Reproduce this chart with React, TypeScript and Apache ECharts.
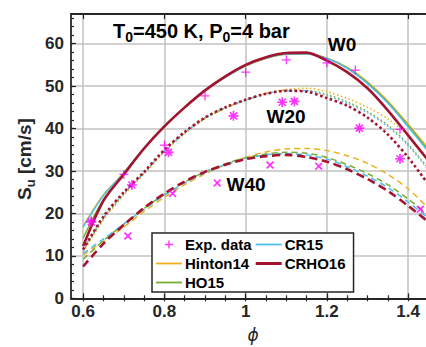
import React, { useEffect, useRef } from "react";
import * as echarts from "echarts";

const FONT = "'Liberation Sans', Arial, Helvetica, sans-serif";

// equivalence ratio grid for model curves
const phi = [0.6, 0.65, 0.7, 0.75, 0.8, 0.85, 0.9, 0.95, 1.0, 1.05, 1.1, 1.15, 1.2, 1.25, 1.3, 1.35, 1.4, 1.45];

// W0 (solid)
const hintonW0 = [17.0, 24.4, 29.6, 35.5, 40.6, 45.0, 48.9, 52.1, 54.7, 56.5, 57.5, 57.6, 56.6, 54.4, 51.0, 46.5, 41.0, 35.3];
const ho15W0 = [14.2, 23.3, 29.4, 35.4, 40.6, 45.0, 48.9, 52.1, 54.8, 56.6, 57.6, 57.7, 56.6, 54.3, 50.8, 46.2, 40.7, 34.8];
const cr15W0 = [16.8, 24.2, 29.5, 35.5, 40.6, 45.0, 48.9, 52.1, 54.8, 56.6, 57.6, 57.6, 56.5, 54.2, 50.6, 46.0, 40.4, 34.5];
const crho16W0 = [12.3, 23.0, 29.2, 35.3, 40.5, 45.0, 49.0, 52.3, 55.0, 56.8, 57.8, 57.9, 56.0, 53.3, 49.5, 44.3, 38.4, 32.4];

// W20 (dotted)
const hintonW20 = [11.0, 18.5, 24.3, 29.3, 34.5, 38.8, 42.3, 44.8, 46.7, 48.3, 49.2, 49.5, 48.7, 47.1, 45.0, 42.3, 38.3, 32.8];
const ho15W20 = [11.3, 18.8, 24.6, 29.5, 34.7, 39.0, 42.5, 44.9, 46.7, 48.2, 49.0, 49.0, 48.0, 46.3, 44.0, 40.8, 36.3, 30.6];
const cr15W20 = [11.5, 19.0, 24.7, 29.6, 34.8, 39.0, 42.5, 44.9, 46.7, 48.2, 48.9, 48.9, 47.8, 46.0, 43.7, 40.5, 36.0, 30.3];
const crho16W20 = [11.5, 19.3, 25.0, 29.8, 35.0, 39.2, 42.6, 45.0, 46.8, 48.2, 48.9, 48.7, 47.2, 45.4, 42.6, 38.6, 33.2, 26.8];

// W40 (dashed)
const hintonW40 = [10.2, 13.5, 16.8, 20.5, 23.8, 26.8, 29.3, 31.5, 33.2, 34.5, 35.2, 35.3, 34.8, 33.6, 31.8, 29.2, 25.8, 21.2];
const ho15W40 = [9.2, 13.6, 17.5, 21.2, 24.5, 27.4, 29.8, 31.7, 33.1, 34.0, 34.4, 34.2, 33.2, 31.5, 29.4, 26.8, 23.4, 19.6];
const cr15W40 = [10.6, 14.0, 17.5, 21.0, 24.3, 27.2, 29.6, 31.5, 32.9, 33.8, 34.1, 33.8, 32.8, 31.0, 28.8, 26.1, 22.7, 18.8];
const crho16W40 = [7.5, 12.9, 17.3, 21.3, 24.7, 27.5, 29.8, 31.5, 32.8, 33.5, 33.8, 33.3, 32.2, 30.4, 28.1, 25.3, 21.8, 18.0];

// experimental data
const expPhiW0 = [0.62, 0.70, 0.80, 0.90, 1.00, 1.10, 1.20, 1.27, 1.38];
const expSuW0 = [18.2, 29.2, 36.1, 47.7, 53.3, 56.2, 55.5, 53.8, 39.8];
const expPhiW20 = [0.62, 0.72, 0.81, 0.97, 1.09, 1.12, 1.28, 1.38];
const expSuW20 = [18.0, 26.7, 34.4, 43.0, 46.2, 46.4, 40.1, 32.9];
const expPhiW40 = [0.71, 0.82, 0.93, 1.06, 1.18, 1.43];
const expSuW40 = [14.7, 24.7, 27.2, 31.4, 31.1, 21.0];

// ticks
const xMajor = [0.6, 0.8, 1, 1.2, 1.4];
const xMinor = [0.6, 0.65, 0.7, 0.75, 0.8, 0.85, 0.9, 0.95, 1, 1.05, 1.1, 1.15, 1.2, 1.25, 1.3, 1.35, 1.4];
const yMajor = [0, 10, 20, 30, 40, 50, 60];
const yMinor = [0, 2, 4, 6, 8, 10, 12, 14, 16, 18, 20, 22, 24, 26, 28, 30, 32, 34, 36, 38, 40, 42, 44, 46, 48, 50, 52, 54, 56, 58, 60, 62, 64, 66];

const PLUS = "path://M0 4.3H10V5.7H0ZM4.3 0H5.7V10H4.3Z";
const ASTER =
  "path://M0 4.2H10V5.8H0ZM4.2 0H5.8V10H4.2ZM2.07 0.93L9.07 7.93L7.93 9.07L0.93 2.07ZM7.93 0.93L9.07 2.07L2.07 9.07L0.93 7.93Z";
const CROSS = "path://M2.14 0.86L9.14 7.86L7.86 9.14L0.86 2.14ZM7.86 0.86L9.14 2.14L2.14 9.14L0.86 7.86Z";
const LEG_PLUS = "path://M0 0L0 0M26 14L26 14M9 6.3H17V7.7H9ZM12.3 3H13.7V11H12.3Z";
const LEG_LINE = "path://M0 0L0 0M26 14L26 14M0 6.1H26V7.9H0Z";
const LEG_THICK = "path://M0 0L0 0M26 14L26 14M0 5.5H26V8.5H0Z";

const models = [
  { name: "Hinton14", color: "#EDB120", width: 1.5, w0: hintonW0, w20: hintonW20, w40: hintonW40 },
  { name: "HO15", color: "#77AC30", width: 1.5, w0: ho15W0, w20: ho15W20, w40: ho15W40 },
  { name: "CR15", color: "#4DBEEE", width: 1.5, w0: cr15W0, w20: cr15W20, w40: cr15W40 },
  { name: "CRHO16", color: "#A2142F", width: 2.6, w0: crho16W0, w20: crho16W20, w40: crho16W40 },
];

function buildOption() {
  const series: any[] = [];
  models.forEach((m) => {
    const thick = m.width > 2;
    const variants: [number[], any][] = [
      [m.w0, "solid"],
      [m.w20, thick ? [2.6, 2.6] : [1.5, 2.5]],
      [m.w40, thick ? [8, 4.5] : [6, 4]],
    ];
    variants.forEach(([vals, type]) => {
      series.push({
        type: "line",
        name: m.name,
        data: phi.map((x, i) => [x, vals[i]]),
        smooth: 0.3,
        symbol: "none",
        lineStyle: { color: m.color, width: m.width, type },
        itemStyle: { color: m.color },
        emphasis: { disabled: true },
        xAxisIndex: 0,
        yAxisIndex: 0,
      });
    });
  });
  const exp: [number[], number[], string, number][] = [
    [expPhiW0, expSuW0, PLUS, 9],
    [expPhiW20, expSuW20, ASTER, 10],
    [expPhiW40, expSuW40, CROSS, 8],
  ];
  exp.forEach(([xs, ys, sym, size]) => {
    series.push({
      type: "scatter",
      name: "Exp. data",
      data: xs.map((x, i) => [x, ys[i]]),
      symbol: sym,
      symbolSize: size,
      itemStyle: { color: "#FF00FF" },
      emphasis: { disabled: true },
      z: 5,
      xAxisIndex: 0,
      yAxisIndex: 0,
    });
  });

  const axisColor = "#262626";
  const tickLbl = { color: axisColor, fontSize: 17, fontWeight: "bold", fontFamily: FONT };
  const xBase = { type: "value", min: 0.57, max: 1.444, gridIndex: 0 };
  const yBase = { type: "value", min: 0, max: 67, gridIndex: 0 };

  return {
    animation: false,
    textStyle: { fontFamily: FONT },
    grid: { left: 71, right: 0, top: 14, bottom: 48.7, containLabel: false, outerBoundsMode: "none" },
    xAxis: [
      {
        ...xBase,
        position: "bottom",
        axisLine: { show: true, onZero: false, lineStyle: { color: axisColor, width: 1.8 } },
        axisTick: { show: true, inside: true, length: 5, customValues: xMajor, lineStyle: { color: axisColor, width: 1.2 } },
        axisLabel: { show: true, customValues: xMajor, margin: 5, ...tickLbl },
        splitLine: { show: true, lineStyle: { color: "#c2c2c2", width: 1.5 } },
      },
      {
        ...xBase,
        position: "bottom",
        axisLine: { show: false },
        axisTick: { show: true, inside: true, length: 3, customValues: xMinor, lineStyle: { color: axisColor, width: 1.2 } },
        axisLabel: { show: false },
        splitLine: { show: false },
      },
      {
        ...xBase,
        position: "top",
        axisLine: { show: true, onZero: false, lineStyle: { color: axisColor, width: 1.8 } },
        axisTick: { show: true, inside: true, length: 5, customValues: xMajor, lineStyle: { color: axisColor, width: 1.2 } },
        axisLabel: { show: false },
        splitLine: { show: false },
      },
      {
        ...xBase,
        position: "top",
        axisLine: { show: false },
        axisTick: { show: true, inside: true, length: 3, customValues: xMinor, lineStyle: { color: axisColor, width: 1.2 } },
        axisLabel: { show: false },
        splitLine: { show: false },
      },
    ],
    yAxis: [
      {
        ...yBase,
        position: "left",
        axisLine: { show: true, onZero: false, lineStyle: { color: axisColor, width: 1.8 } },
        axisTick: { show: true, inside: true, length: 5, customValues: yMajor, lineStyle: { color: axisColor, width: 1.2 } },
        axisLabel: { show: true, customValues: yMajor, margin: 7, ...tickLbl },
        splitLine: { show: true, lineStyle: { color: "#c2c2c2", width: 1.5 } },
      },
      {
        ...yBase,
        position: "left",
        axisLine: { show: false },
        axisTick: { show: true, inside: true, length: 3, customValues: yMinor, lineStyle: { color: axisColor, width: 1.2 } },
        axisLabel: { show: false },
        splitLine: { show: false },
      },
    ],
    legend: {
      show: true,
      orient: "vertical",
      left: 152,
      top: 233,
      height: 58,
      padding: [4, 8, 2, 4],
      itemWidth: 26,
      itemHeight: 14,
      itemGap: 4,
      backgroundColor: "#ffffff",
      borderColor: axisColor,
      borderWidth: 1.5,
      borderRadius: 0,
      selectedMode: false,
      itemStyle: { borderWidth: 0 },
      textStyle: { fontSize: 15, fontWeight: "bold", color: "#000", fontFamily: FONT, padding: [0, 0, 0, -2] },
      data: [
        { name: "Exp. data", icon: LEG_PLUS },
        { name: "Hinton14", icon: LEG_LINE },
        { name: "HO15", icon: LEG_LINE },
        { name: "CR15", icon: LEG_LINE },
        { name: "CRHO16", icon: LEG_THICK },
      ],
    },
    graphic: [
      {
        type: "text",
        x: 113,
        y: 18,
        z: 10,
        style: {
          text: "{a|T}{s|0}{a|=450 K, P}{s|0}{a|=4 bar}",
          align: "left",
          verticalAlign: "top",
          rich: {
            a: { fontSize: 20, fontWeight: "bold", fontFamily: FONT, fill: "#000", lineHeight: 26 },
            s: { fontSize: 14, fontWeight: "bold", fontFamily: FONT, fill: "#000", lineHeight: 12, verticalAlign: "bottom" },
          },
        },
      },
      {
        type: "text",
        x: 342,
        y: 44,
        z: 10,
        style: { text: "W0", fontSize: 19, fontWeight: "bold", fontFamily: FONT, fill: "#000", align: "center", verticalAlign: "middle" },
      },
      {
        type: "text",
        x: 286,
        y: 116,
        z: 10,
        style: { text: "W20", fontSize: 19, fontWeight: "bold", fontFamily: FONT, fill: "#000", align: "center", verticalAlign: "middle" },
      },
      {
        type: "text",
        x: 246,
        y: 184,
        z: 10,
        style: { text: "W40", fontSize: 19, fontWeight: "bold", fontFamily: FONT, fill: "#000", align: "center", verticalAlign: "middle" },
      },
      {
        type: "text",
        x: 253,
        y: 335,
        z: 10,
        style: { text: "ϕ", fontSize: 17, fontStyle: "italic", fontFamily: "'DejaVu Sans', sans-serif", fill: "#262626", align: "center", verticalAlign: "middle" },
      },
      {
        type: "text",
        x: 24,
        y: 159,
        rotation: Math.PI / 2,
        z: 10,
        style: {
          text: "{a|S}{s|u}{a| [cm/s]}",
          align: "center",
          verticalAlign: "middle",
          rich: {
            a: { fontSize: 19, fontWeight: "bold", fontFamily: FONT, fill: "#262626", lineHeight: 26 },
            s: { fontSize: 13, fontWeight: "bold", fontFamily: FONT, fill: "#262626", lineHeight: 12, verticalAlign: "bottom" },
          },
        },
      },
    ],
    series,
  };
}

export default function App() {
  const ref = useRef<HTMLDivElement>(null);
  useEffect(() => {
    if (!ref.current) return;
    const chart = echarts.init(ref.current, undefined, { renderer: "svg" });
    chart.setOption(buildOption() as any);
    return () => chart.dispose();
  }, []);
  return (
    <div
      ref={ref}
      style={{ position: "fixed", left: 0, top: 0, width: 426, height: 347, background: "#fff" }}
    />
  );
}
